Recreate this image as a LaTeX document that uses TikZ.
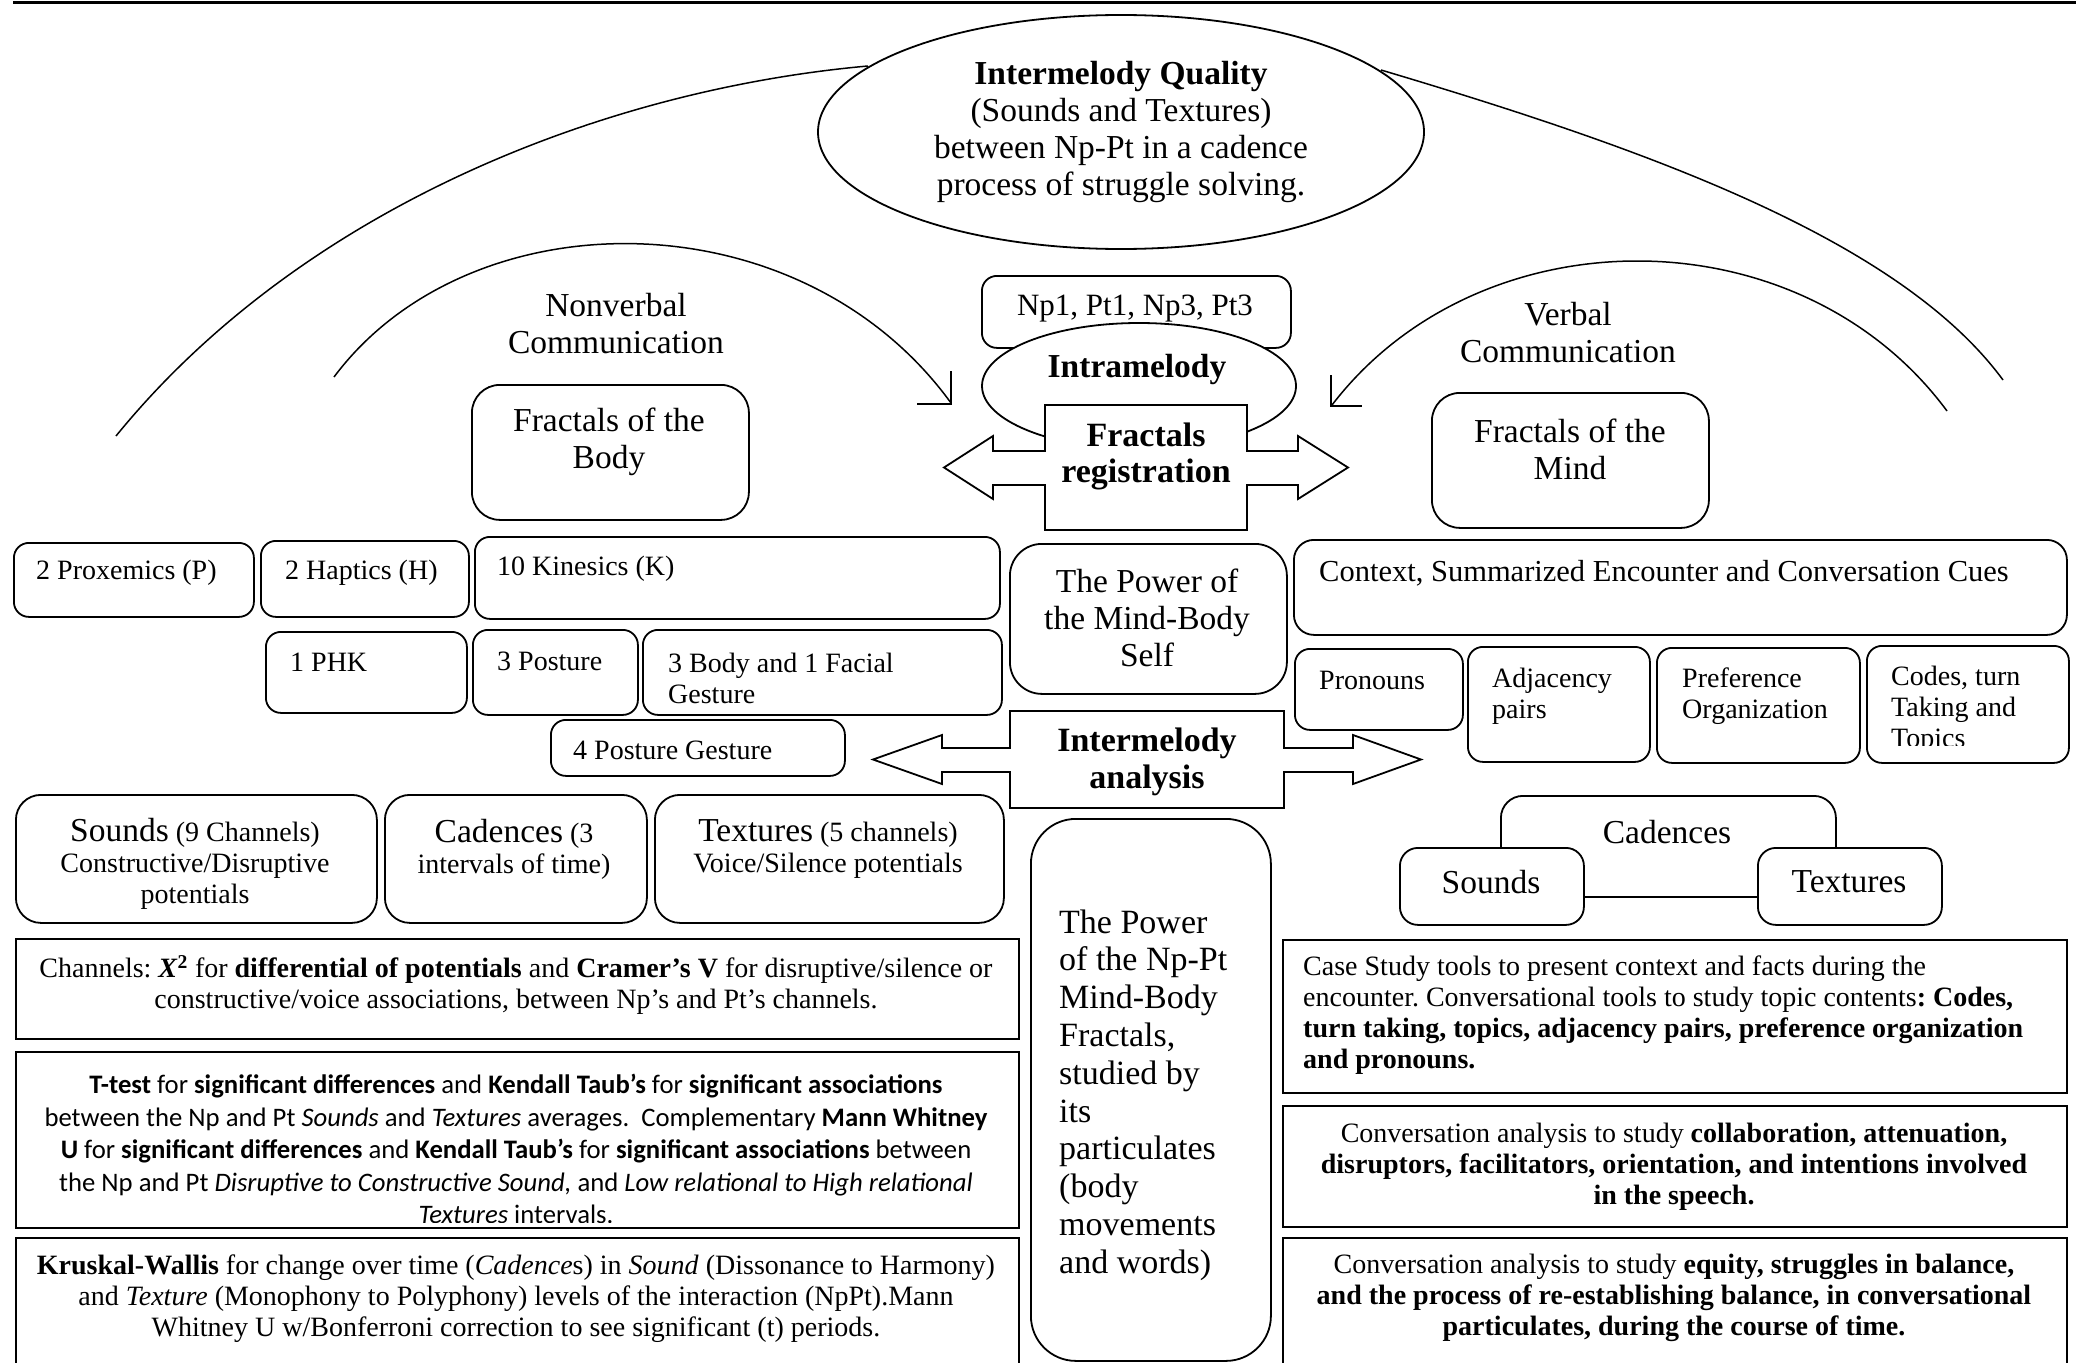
\documentclass[tikz,border=0pt]{standalone}
\usepackage{fontspec}
\setmainfont{Liberation Serif}
\newfontfamily\calib{Carlito}
\usetikzlibrary{shapes.geometric}
\frenchspacing
\newcommand\fbig{\fontsize{33.5}{37}\selectfont}
\newcommand\fmed{\fontsize{28}{31}\selectfont}
\newcommand\fctx{\fontsize{30.5}{34}\selectfont}
\newcommand\fcal{\calib\fontsize{26.7}{32.5}\selectfont}
\tikzset{
  rb/.style={draw, rounded corners=#1, line width=1.8pt, fill=white, inner sep=0pt, anchor=north west},
  rb/.default=15pt,
  sq/.style={draw, line width=2.4pt, fill=white, inner sep=0pt, anchor=north west},
  txt/.style={inner sep=0pt},
  arcline/.style={line width=1.5pt},
  shapeline/.style={draw, line width=1.8pt, fill=white, line join=miter},
}
\newcommand\mybox[6][rb]{\node[#1, minimum width={#5-#3}, minimum height={#6-#4}] (#2) at (#3,#4) {};}
\begin{document}
\begin{tikzpicture}[x=1pt,y=-1pt]
\useasboundingbox (0,0) rectangle (2076,1362);
\clip (0,0) rectangle (2076,1362);
\draw[line width=2.5pt] (13,2.5) -- (2076,2.5);

% arcs
\coordinate (la1) at (116,436); \coordinate (la2) at (868,66);
\draw[arcline] (la1) .. controls (300,210) and (600,90) .. (la2);
\coordinate (ra1) at (1381,70); \coordinate (ra2) at (2003,380);
\draw[arcline] (ra1) .. controls (1650,150) and (1900,240) .. (ra2);
\coordinate (nv1) at (334,377); \coordinate (nv2) at (951,403);
\draw[arcline] (nv1) .. controls (470,195) and (800,195) .. (nv2);
\draw[arcline] (951,371) -- (951,404) -- (917,404);
\coordinate (vb1) at (1947,411); \coordinate (vb2) at (1332,405);
\draw[arcline] (vb1) .. controls (1800,212) and (1480,212) .. (vb2);
\draw[arcline] (1331,375) -- (1331,406) -- (1362,406);

% big ellipse
\node[draw, ellipse, line width=1.8pt, fill=white, minimum width=606pt, minimum height=234pt, inner sep=0pt, align=center, font=\fbig] (iq) at (1121,132)
  {\textbf{Intermelody Quality}\\(Sounds and Textures)\\between Np-Pt in a cadence\\process of struggle solving.};

\node[txt, align=center, font=\fbig] (nvt) at (616,324) {Nonverbal\\Communication};
\node[txt, align=center, font=\fbig] (vbt) at (1568,333) {Verbal\\Communication};

% Np box + intramelody
\mybox{npb}{981}{275}{1290}{347}
\node[draw, ellipse, line width=1.8pt, fill=white, minimum width=314pt, minimum height=126pt] (intra) at (1139,386) {};
\node[txt, font=\fontsize{31}{34}\selectfont] (npt) at (1135,309) {Np1, Pt1, Np3, Pt3};
\node[txt, font=\fbig\bfseries] (intrat) at (1137,369) {Intramelody};

% Fractals registration double arrow
\draw[shapeline] (1045,405) -- (1247,405) -- (1247,451) -- (1298,451) -- (1298,436) -- (1348,467.5) -- (1298,499) -- (1298,485) -- (1247,485) -- (1247,530) -- (1045,530) -- (1045,485) -- (993,485) -- (993,499) -- (944,467.5) -- (993,436) -- (993,451) -- (1045,451) -- cycle;
\node[txt, align=center, font=\fontsize{34}{36}\selectfont\bfseries] (frt) at (1146,456) {Fractals\\registration};

% Fractals of the body / mind
\mybox[rb=28pt]{fbody}{471}{384}{748}{519}
\node[txt, align=center, font=\fbig] at (609,442) {Fractals of the\\Body};
\mybox[rb=28pt]{fmind}{1431}{392}{1708}{527}
\node[txt, align=center, font=\fbig] at (1570,449) {Fractals of the\\Mind};

% nonverbal small boxes
\mybox{prox}{13}{542}{253}{616}
\node[txt, anchor=west, font=\fmed] at (36,573) {2 Proxemics (P)};
\mybox{hapt}{260}{540}{468}{616}
\node[txt, anchor=west, font=\fmed] at (285,573) {2 Haptics (H)};
\mybox{kin}{474}{536}{999}{618}
\node[txt, anchor=west, font=\fmed] at (497,569) {10 Kinesics (K)};
\mybox{phk}{265}{631}{466}{712}
\node[txt, anchor=west, font=\fmed] at (290,662) {1 PHK};
\mybox{post}{472}{629}{637}{714}
\node[txt, anchor=west, font=\fmed] at (497,661) {3 Posture};
\mybox{bodyg}{642}{629}{1001}{714}
\node[txt, anchor=west, align=left, font=\fmed] at (668,678) {3 Body and 1 Facial\\Gesture};
\mybox{pg}{550}{719}{844}{775}
\node[txt, anchor=west, font=\fmed] at (573,750) {4 Posture Gesture};

% sounds cadences textures (left)
\mybox[rb=25pt]{snd}{15}{794}{376}{922}
\node[txt, align=center, font=\fmed] at (195,864) {{\fbig Sounds} (9 Channels)\\Constructive/Disruptive\\potentials};
\mybox[rb=25pt]{cad}{384}{794}{646}{922}
\node[txt, align=center, font=\fmed] at (514,849) {{\fbig Cadences} (3\\intervals of time)};
\mybox[rb=25pt]{tex}{654}{794}{1003}{922}
\node[txt, align=center, font=\fmed] at (828,849) {{\fbig Textures} (5 channels)\\Voice/Silence potentials};

% central boxes
\mybox[rb=32pt]{pmbs}{1009}{543}{1286}{693}
\node[txt, align=center, font=\fbig] at (1147,618) {The Power of\\the Mind-Body\\Self};

\draw[shapeline] (1010,711) -- (1284,711) -- (1284,748) -- (1353,748) -- (1353,735) -- (1421,759.5) -- (1353,784) -- (1353,772) -- (1284,772) -- (1284,808) -- (1010,808) -- (1010,772) -- (942,772) -- (942,784) -- (873,759.5) -- (942,735) -- (942,748) -- (1010,748) -- cycle;
\node[txt, align=center, font=\fontsize{34}{37}\selectfont\bfseries] (iat) at (1147,762) {Intermelody\\analysis};

\mybox[rb=45pt]{tall}{1030}{818}{1270}{1360}
\node[txt, anchor=west, align=left, font=\fontsize{34}{37.8}\selectfont] at (1059,1095) {The Power\\of the Np-Pt\\Mind-Body\\Fractals,\\studied by\\its\\particulates\\(body\\movements\\and words)};

% verbal side
\mybox[rb=20pt]{ctx}{1293}{539}{2066}{634}
\node[txt, anchor=west, font=\fctx] at (1319,573) {Context, Summarized Encounter and Conversation Cues};
\mybox{pron}{1294}{648}{1462}{729}
\node[txt, anchor=west, font=\fmed] at (1319,680) {Pronouns};
\mybox{adj}{1467}{646}{1649}{761}
\node[txt, anchor=west, align=left, font=\fmed] at (1492,696) {Adjacency\\pairs};
\mybox{pref}{1656}{647}{1859}{762}
\node[txt, anchor=west, align=left, font=\fmed] at (1682,696) {Preference\\Organization};
\mybox{codes}{1866}{645}{2068}{762}
\begin{scope}
\clip (1866,645) rectangle (2068,745);
\node[txt, anchor=west, align=left, font=\fmed] at (1891,710) {Codes, turn\\Taking and\\Topics};
\end{scope}

\mybox[rb=22pt]{cadr}{1500}{795}{1835}{896}
\node[txt, font=\fbig] at (1667,832) {Cadences};
\mybox[rb=18pt]{sndr}{1399}{847}{1583}{924}
\node[txt, font=\fbig] at (1491,882) {Sounds};
\mybox[rb=18pt]{texr}{1757}{847}{1941}{924}
\node[txt, font=\fbig] at (1849,882) {Textures};

% text boxes right
\mybox[sq]{case}{1282}{939}{2066}{1092}
\node[txt, anchor=west, align=left, font=\fmed] at (1303,1015) {Case Study tools to present context and facts during the\\encounter. Conversational tools to study topic contents\textbf{: Codes,}\\\textbf{turn taking, topics, adjacency pairs, preference organization}\\\textbf{and pronouns.}};
\mybox[sq]{conv1}{1282}{1105}{2066}{1226}
\node[txt, align=center, font=\fmed] at (1674,1167) {Conversation analysis to study \textbf{collaboration, attenuation,}\\\textbf{disruptors, facilitators, orientation, and intentions involved}\\\textbf{in the speech.}};
\mybox[sq]{conv2}{1282}{1237}{2066}{1380}
\node[txt, align=center, font=\fmed] at (1674,1298) {Conversation analysis to study \textbf{equity, struggles in balance,}\\\textbf{and the process of re-establishing balance, in conversational}\\\textbf{particulates, during the course of time.}};

% text boxes left
\mybox[sq]{chan}{15}{938}{1018}{1038}
\node[txt, align=center, font=\fmed] at (516,985) {Channels: \textbf{\textit{X}}\textsuperscript{\textbf{2}} for \textbf{differential of potentials} and \textbf{Cramer’s V} for disruptive/silence or\\constructive/voice associations, between Np’s and Pt’s channels.};
\mybox[sq]{ttest}{15}{1051}{1018}{1227}
\begin{scope}
\clip (15,1051) rectangle (1018,1222);
\node[txt, align=center, font=\fcal] at (516,1149) {\textbf{T-test} for \textbf{significant differences} and \textbf{Kendall Taub’s} for \textbf{significant associations}\\between the Np and Pt \textit{Sounds} and \textit{Textures} averages.\ \ Complementary \textbf{Mann Whitney}\\\textbf{U} for \textbf{significant differences} and \textbf{Kendall Taub’s} for \textbf{significant associations} between\\the Np and Pt \textit{Disruptive to Constructive Sound,} and \textit{Low relational to High relational}\\\textit{Textures} intervals.};
\end{scope}
\mybox[sq]{krus}{15}{1237}{1018}{1380}
\node[txt, align=center, font=\fmed] at (516,1299) {\textbf{Kruskal-Wallis} for change over time (\textit{Cadence}s) in \textit{Sound} (Dissonance to Harmony)\\and \textit{Texture} (Monophony to Polyphony) levels of the interaction (NpPt).Mann\\Whitney U w/Bonferroni correction to see significant (t) periods.};
\end{tikzpicture}
\end{document}
